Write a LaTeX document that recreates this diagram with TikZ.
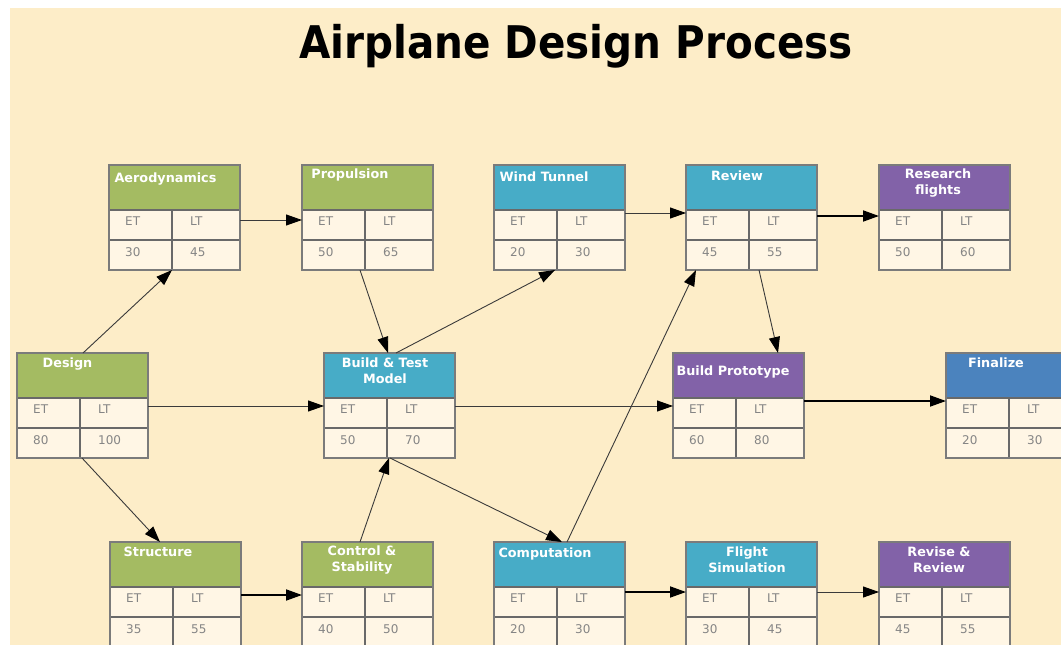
\documentclass[tikz,border=0pt]{standalone}
\usepackage{fontspec}
\setmainfont{DejaVu Sans}
\newfontfamily\titlefont{DejaVu Sans Condensed}
\usetikzlibrary{arrows.meta}
\definecolor{bgcream}{HTML}{FDEDC8}
\definecolor{cellfill}{HTML}{FFF6E5}
\definecolor{hgreen}{HTML}{A4BB62}
\definecolor{hteal}{HTML}{47ACC7}
\definecolor{hpurple}{HTML}{8262A8}
\definecolor{hblue}{HTML}{4B83BE}
\definecolor{bordergray}{HTML}{7B7B7B}
\definecolor{cellgray}{HTML}{858585}
\definecolor{linegray}{HTML}{3A3A3A}
\tikzset{
  boxnode/.style={rectangle,minimum width=131pt,minimum height=105pt,inner sep=0pt,outer sep=0pt},
  boxborder/.style={draw=bordergray,line width=1.3pt},
  innerline/.style={draw=bordergray!85!black,line width=1.2pt},
  htext/.style={text=white,font=\bfseries\fontsize{12.8}{16}\selectfont,align=center,inner sep=0pt},
  ctext/.style={text=cellgray,font=\fontsize{12}{14}\selectfont,anchor=west,inner sep=0pt},
  thinconn/.style={draw=linegray,line width=0.9pt,-{Triangle[length=16pt,width=11pt,color=black]}},
  thickconn/.style={draw=black,line width=1.8pt,-{Triangle[length=16pt,width=11pt,color=black]}},
}
\newcommand\abox[9]{%
  \node[boxnode] (#1) at (#2+65.5,#3+52.5) {};
  \fill[#4] (#1.north west) rectangle ([yshift=-45pt]#1.north east);
  \fill[cellfill] ([yshift=-45pt]#1.north west) rectangle (#1.south east);
  \draw[innerline] ([yshift=-45pt]#1.north west) -- ([yshift=-45pt]#1.north east);
  \draw[innerline] ([yshift=-75pt]#1.north west) -- ([yshift=-75pt]#1.north east);
  \draw[innerline] ([xshift=63pt,yshift=-45pt]#1.north west) -- ([xshift=63pt]#1.south west);
  \draw[boxborder] (#1.north west) rectangle (#1.south east);
  \node[htext] (#1-h) at ([xshift=#6pt,yshift=-#7pt]#1.north west) {#5};
  \node[ctext] (#1-et) at ([xshift=16pt,yshift=-56pt]#1.north west) {ET};
  \node[ctext] (#1-lt) at ([xshift=81pt,yshift=-56pt]#1.north west) {LT};
  \node[ctext] (#1-ev) at ([xshift=16pt,yshift=-87pt]#1.north west) {#8};
  \node[ctext] (#1-lv) at ([xshift=81pt,yshift=-87pt]#1.north west) {#9};
}
\begin{document}
\begin{tikzpicture}[x=1pt,y=-1pt]
\useasboundingbox (0,0) rectangle (1061,645);
\fill[white] (0,0) rectangle (1061,645);
\begin{scope}
\clip (10,8) rectangle (1061,645);
\fill[bgcream] (10,8) rectangle (1061,645);
\node[inner sep=0pt,anchor=base,font=\titlefont\bfseries\fontsize{45}{50}\selectfont] (title) at (576,58) {Airplane Design Process};

\abox{design}{17}{353}{hgreen}{Design}{50.5}{11}{80}{100}
\abox{aero}{109}{165}{hgreen}{Aerodynamics}{56.5}{14}{30}{45}
\abox{prop}{302}{165}{hgreen}{Propulsion}{48}{10}{50}{65}
\abox{wt}{494}{165}{hteal}{Wind Tunnel}{50}{12}{20}{30}
\abox{review}{686}{165}{hteal}{Review}{51}{11}{45}{55}
\abox{research}{879}{165}{hpurple}{Research\\flights}{59}{18}{50}{60}
\abox{bt}{324}{353}{hteal}{Build \& Test\\Model}{61}{18}{50}{70}
\abox{bp}{673}{353}{hpurple}{Build Prototype}{60}{19}{60}{80}
\abox{final}{946}{353}{hblue}{Finalize}{50}{10}{20}{30}
\abox{struct}{110}{542}{hgreen}{Structure}{48}{10}{35}{55}
\abox{cs}{302}{542}{hgreen}{Control \&\\Stability}{60}{18}{40}{50}
\abox{comp}{494}{542}{hteal}{Computation}{51}{12}{20}{30}
\abox{fs}{686}{542}{hteal}{Flight\\Simulation}{61}{18}{30}{45}
\abox{rr}{879}{542}{hpurple}{Revise \&\\Review}{60}{18}{45}{55}

% connectors
\draw[thinconn] ([xshift=66pt]design.north west) -- ([xshift=63pt]aero.south west);
\draw[thinconn] ([yshift=-53pt]design.north east) -- ([yshift=-53pt]bt.north west);
\draw[thinconn] ([xshift=65pt]design.south west) -- ([xshift=50pt]struct.north west);
\draw[thinconn] ([yshift=-55pt]aero.north east) -- ([yshift=-55pt]prop.north west);
\draw[thinconn] ([xshift=58pt]prop.south west) -- ([xshift=64pt]bt.north west);
\draw[thinconn] ([xshift=72pt]bt.north west) -- ([xshift=61pt]wt.south west);
\draw[thinconn] ([yshift=-48pt]wt.north east) -- ([yshift=-48pt]review.north west);
\draw[thickconn] ([yshift=-51pt]review.north east) -- ([yshift=-51pt]research.north west);
\draw[thinconn] ([xshift=73pt]review.south west) -- ([xshift=105pt]bp.north west);
\draw[thinconn] ([yshift=-53pt]bt.north east) -- ([yshift=-53pt]bp.north west);
\draw[thickconn] ([yshift=-48pt]bp.north east) -- ([yshift=-48pt]final.north west);
\draw[thinconn] ([xshift=66pt]bt.south west) -- ([xshift=68pt]comp.north west);
\draw[thinconn] ([xshift=58pt]cs.north west) -- ([xshift=65pt]bt.south west);
\draw[thickconn] ([yshift=-53pt]struct.north east) -- ([yshift=-53pt]cs.north west);
\draw[thinconn] ([xshift=73pt]comp.north west) -- ([xshift=10pt]review.south west);
\draw[thickconn] ([yshift=-50pt]comp.north east) -- ([yshift=-50pt]fs.north west);
\draw[thinconn] ([yshift=-50pt]fs.north east) -- ([yshift=-50pt]rr.north west);
\end{scope}
\end{tikzpicture}
\end{document}
